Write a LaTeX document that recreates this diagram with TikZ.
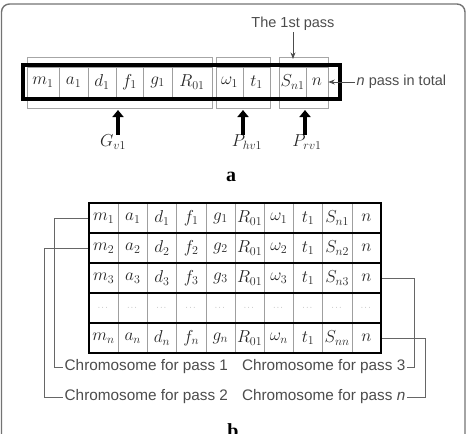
\documentclass[tikz,border=0pt]{standalone}
\usepackage{amsmath,amssymb}
\usepackage{fontspec}
\newfontfamily\labelfont{Liberation Sans}
\newfontfamily\partfont{Liberation Serif}
\usetikzlibrary{positioning,arrows.meta,calc}
\tikzset{
  cellmath/.style={font=\fontsize{17.5}{20}\selectfont},
}

\begin{document}
\begin{tikzpicture}[
  x=1pt, y=-1pt,
  >=Stealth,
  every node/.style={inner sep=0pt},
  cellbox/.style={draw=gray!75, minimum height=30pt, cellmath, text=black!85},
  grpbox/.style={draw=gray!70, line width=0.8pt, minimum height=51pt},
  passbox/.style={draw=black, line width=4pt, minimum width=317pt, minimum height=34pt},
  rowbox/.style={draw=black, line width=2.4pt, minimum width=292pt, minimum height=30pt},
  txt/.style={inner sep=1.5pt, font=\labelfont\fontsize{14.5}{16}\selectfont, text=black!70},
  chrom/.style={txt, font=\labelfont\fontsize{15.3}{17}\selectfont},
  vlbl/.style={font=\fontsize{16.5}{19}\selectfont, text=black!85},
  bigup/.style={line width=3.6pt, -{Triangle[width=11pt,length=7pt]}},
  thin/.style={->, draw=black!70, line width=0.8pt},
  bracket/.style={draw=black!60, line width=0.8pt},
  partlbl/.style={anchor=base, font=\partfont\fontsize{20}{24}\selectfont\bfseries}
]
\useasboundingbox (0,0) rectangle (469,434);
\clip (0,0) rectangle (469,434);

% Frame
\draw[draw=black!55, line width=1.4pt, rounded corners=8pt] (1.5,450) -- (1.5,4) -- (465,4) -- (465,450);

% (a) one pass
\node[grpbox, minimum width=185pt] (grp1) at (119.5,82.5) {};
\node[grpbox, minimum width=54pt]  (grp2) at (243,82.5)   {};
\node[grpbox, minimum width=49pt]  (grp3) at (303.5,82.5) {};

\node[cellbox, minimum width=32pt] (m1)  at (43,82)    {$m_1$};
\node[cellbox, minimum width=29pt] (a1)  at (73.5,82)  {$a_1$};
\node[cellbox, minimum width=28pt] (d1)  at (102,82)   {$d_1$};
\node[cellbox, minimum width=27pt] (f1)  at (129.5,82) {$f_1$};
\node[cellbox, minimum width=29pt] (g1)  at (157.5,82) {$g_1$};
\node[cellbox, minimum width=40pt] (R01) at (192,82)   {$R_{01}$};
\node[cellbox, minimum width=27pt] (w1)  at (229.5,82) {$\omega_1$};
\node[cellbox, minimum width=27pt] (t1)  at (256.5,82) {$t_1$};
\node[cellbox, minimum width=27pt] (Sn1) at (292.5,82) {$S_{n1}$};
\node[cellbox, minimum width=22pt] (ncell) at (317,82) {$n$};

\node[passbox] (pass1) at (181.5,82) {};

\node[txt] (first) at (293,24) {The 1st pass};
\coordinate (first-tip) at (293,59);
\draw[thin] (first.south) -- (first-tip);

\node[txt, anchor=west] (npass) at (355,82) {\textit{n} pass in total};
\draw[thin] (npass.west) -- (ncell.east);

\node[vlbl] (Gv)  at (113,142) {$G_{v1}$};
\node[vlbl] (Phv) at (247,142) {$P_{hv1}$};
\node[vlbl] (Prv) at (307,142) {$P_{rv1}$};
\coordinate (Gv-tip)  at (118,110);
\coordinate (Phv-tip) at (243,110);
\coordinate (Prv-tip) at (305,110);
\draw[bigup] (Gv-tip |- Gv.north) -- (Gv-tip);
\draw[bigup] (Phv-tip |- Phv.north) -- (Phv-tip);
\draw[bigup] (Prv-tip |- Prv.north) -- (Prv-tip);

\node[partlbl] (parta) at (231,181.5) {a};

% (b) n passes (x = 89+col*29.2, y = row centre)
\foreach \r/\y/\s in {1/218/1, 2/248/2, 3/278/3, 5/338/n}{
  \foreach \v [count=\c] in {m_\s, a_\s, d_\s, f_\s, g_\s, R_{01}, \omega_\s, t_1, S_{n\s}, n}
    \node[cellbox, minimum width=29.2pt] (r\r-\c) at ({89+29.2*(\c-0.5)},\y) {$\v$};
  \node[rowbox] (row\r) at (235,\y) {};
}
\foreach \c in {1,...,10}
  \node[cellbox, minimum width=29.2pt, text=black!60] (r4-\c) at ({89+29.2*(\c-0.5)},308) {\scriptsize$\cdots$};
\node[rowbox] (row4) at (235,308) {};

\node[chrom, anchor=west] (ch1) at (63,367) {Chromosome for pass 1};
\node[chrom, anchor=west] (ch2) at (63,397) {Chromosome for pass 2};
\node[chrom, anchor=east] (ch3) at (407,367) {Chromosome for pass 3};
\node[chrom, anchor=east] (chn) at (407,397) {Chromosome for pass \textit{n}};

\draw[bracket] (row1.west) -- ++(-33,0) |- (ch1.west);
\draw[bracket] (row2.west) -- ++(-43,0) |- (ch2.west);
\draw[bracket] (row3.east) -- ++(32,0) |- (ch3.east);
\draw[bracket] (row5.east) -- ++(43,0) |- (chn.east);

\node[partlbl] (partb) at (233,437.5) {b};
\end{tikzpicture}
\end{document}
